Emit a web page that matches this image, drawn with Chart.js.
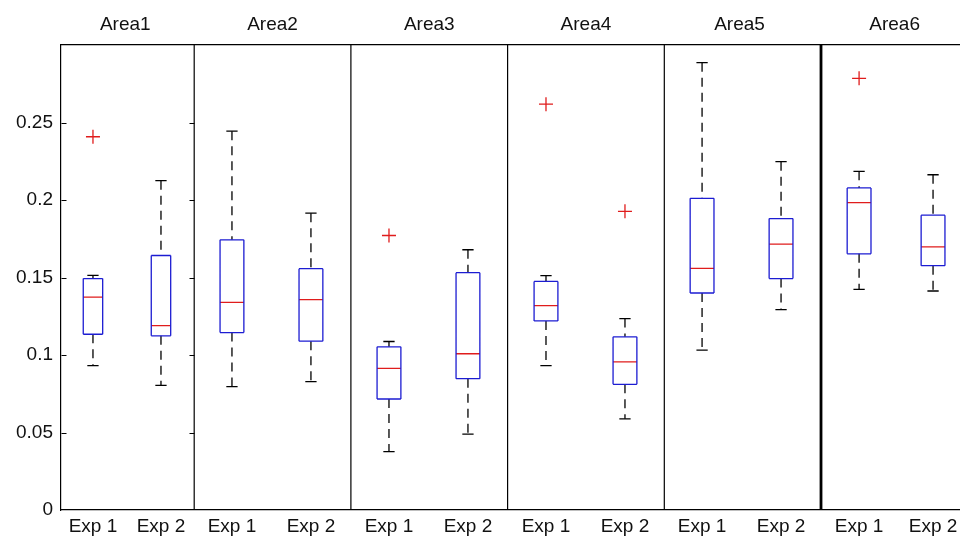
<!DOCTYPE html>
<html>
<head>
<meta charset="utf-8">
<title>Boxplots per area</title>
<script src="https://cdn.jsdelivr.net/npm/chart.js@4.4.1/dist/chart.umd.min.js"></script>
<style>
  html, body { margin: 0; padding: 0; background: #fff; }
  canvas { display: block; }
</style>
</head>
<body>
<canvas id="box" width="960" height="536"></canvas>
<script>
/* ── Data ───────────────────────────────────────── */
const areas       = ["Area1", "Area2", "Area3", "Area4", "Area5", "Area6"];
const areaCenters = [0.56, 1.5, 2.5, 3.5, 4.48, 5.47];
const dividers    = [1, 2, 3, 4, 5];

const categories = ["Exp 1", "Exp 2", "Exp 1", "Exp 2", "Exp 1", "Exp 2",
                    "Exp 1", "Exp 2", "Exp 1", "Exp 2", "Exp 1", "Exp 2"];
const xPos       = [0.354, 0.788, 1.241, 1.745, 2.243, 2.747,
                    3.245, 3.749, 4.241, 4.745, 5.243, 5.715];

const lowWhisker  = [0.0931, 0.0804, 0.0796, 0.0828, 0.0377, 0.0489, 0.0931, 0.0588, 0.1031, 0.1293, 0.1424, 0.1413];
const q1          = [0.1134, 0.1124, 0.1145, 0.1089, 0.0716, 0.0847, 0.1220, 0.0811, 0.1400, 0.1493, 0.1653, 0.1576];
const medians     = [0.1374, 0.1190, 0.1340, 0.1357, 0.0914, 0.1008, 0.1319, 0.0956, 0.1559, 0.1715, 0.1983, 0.1698];
const q3          = [0.1493, 0.1642, 0.1743, 0.1557, 0.1053, 0.1531, 0.1475, 0.1117, 0.2011, 0.1880, 0.2078, 0.1902];
const highWhisker = [0.1514, 0.2125, 0.2444, 0.1915, 0.1087, 0.1679, 0.1512, 0.1235, 0.2886, 0.2247, 0.2185, 0.2163];

const outlierBox = [0, 4, 6, 7, 10];
const outlierVal = [0.2408, 0.1771, 0.2618, 0.1927, 0.2785];

/* ── Styling ─────────────────────────────────────── */
const FONT  = { family: "'Liberation Sans', Arial, sans-serif", size: 19 };
const INK   = "#111";
const BLUE  = "#1c1cd2";
const RED   = "#e01c1c";
const Y_MAX = 0.3;
const CAP_HALF = 0.036;
const boxHalf = i => (i < 2 ? 0.062 : 0.076);   // first panel is narrower

/* ── Helpers: segments with null breaks ──────────── */
function segments(list) {
  const pts = [];
  list.forEach(([x1, y1, x2, y2]) => {
    pts.push({ x: x1, y: y1 }, { x: x2, y: y2 }, { x: x2, y: null });
  });
  return pts;
}

const boxSegs = [], medSegs = [], whiskSegs = [], capSegs = [];
xPos.forEach((x, i) => {
  const w = boxHalf(i);
  boxSegs.push([x - w, q1[i], x + w, q1[i]], [x + w, q1[i], x + w, q3[i]],
               [x + w, q3[i], x - w, q3[i]], [x - w, q3[i], x - w, q1[i]]);
  medSegs.push([x - w, medians[i], x + w, medians[i]]);
  whiskSegs.push([x, highWhisker[i], x, q3[i]], [x, q1[i], x, lowWhisker[i]]);
  capSegs.push([x - CAP_HALF, highWhisker[i], x + CAP_HALF, highWhisker[i]],
               [x - CAP_HALF, lowWhisker[i], x + CAP_HALF, lowWhisker[i]]);
});

const lineDs = (data, color, width, extra) => Object.assign({
  data, showLine: true, spanGaps: false, pointRadius: 0,
  borderColor: color, borderWidth: width, fill: false,
}, extra || {});

/* ── Inward y tick marks on the first panel ──────── */
const inwardTicks = {
  id: "inwardTicks",
  afterDatasetsDraw(chart) {
    const { ctx, chartArea, scales: { x, y } } = chart;
    const edge = Math.round(x.getPixelForValue(dividers[0])) + 0.5;
    const left = Math.round(chartArea.left) + 0.5;
    ctx.save();
    ctx.strokeStyle = "#000";
    ctx.lineWidth = 1;
    ctx.beginPath();
    y.ticks.forEach(t => {
      if (t.value <= 0 || t.value >= Y_MAX - 1e-6) return;
      const py = Math.round(y.getPixelForValue(t.value)) + 0.5;
      ctx.moveTo(left, py);  ctx.lineTo(left + 5, py);
      ctx.moveTo(edge, py);  ctx.lineTo(edge - 5, py);
    });
    ctx.stroke();
    ctx.restore();
  }
};

/* ── Chart ───────────────────────────────────────── */
new Chart(document.getElementById("box"), {
  type: "scatter",
  data: {
    datasets: [
      lineDs(segments(boxSegs), BLUE, 1.3),
      lineDs(segments(medSegs), RED, 1.3),
      lineDs(segments(capSegs), "#000", 1.3),
      lineDs(segments(whiskSegs), "#000", 1.3, { borderDash: [9, 6] }),
      {
        data: outlierBox.map((b, i) => ({ x: xPos[b], y: outlierVal[i] })),
        pointStyle: "cross", pointRadius: 7, pointBorderWidth: 1.3,
        pointBorderColor: RED, borderColor: RED, showLine: false,
      },
      lineDs(segments(dividers.slice(0, 4).map(d => [d, 0, d, Y_MAX])), "#000", 1.2),
      lineDs(segments(dividers.slice(4).map(d => [d, 0, d, Y_MAX])), "#000", 2.8),
    ]
  },
  options: {
    responsive: false,
    animation: false,
    layout: { padding: 0, autoPadding: false },
    plugins: { legend: { display: false }, tooltip: { enabled: false } },
    scales: {
      x: {
        type: "linear", position: "bottom", min: 0.15, max: 5.887,
        grid: { display: false, drawTicks: false },
        border: { display: true, color: "#000", width: 1.2 },
        afterBuildTicks: s => { s.ticks = xPos.map(v => ({ value: v })); },
        afterFit: s => { s.height = 26; s.paddingLeft = 0; s.paddingRight = 0; },
        ticks: {
          autoSkip: false, maxRotation: 0, padding: 5, color: INK, font: FONT,
          callback: (v, i) => categories[i],
        }
      },
      xTop: {
        type: "linear", position: "top", min: 0.15, max: 5.887,
        grid: { display: false, drawTicks: false },
        border: { display: true, color: "#000", width: 1.2 },
        afterBuildTicks: s => { s.ticks = areaCenters.map(v => ({ value: v })); },
        afterFit: s => { s.height = 45; s.paddingLeft = 0; s.paddingRight = 0; },
        ticks: {
          autoSkip: false, maxRotation: 0, padding: 9, color: INK, font: FONT,
          callback: (v, i) => areas[i],
        }
      },
      y: {
        min: 0, max: Y_MAX,
        grid: { display: false, drawTicks: false },
        border: { display: true, color: "#000", width: 1.2 },
        afterFit: s => { s.width = 61; s.paddingTop = 0; s.paddingBottom = 0; },
        ticks: {
          stepSize: 0.05, padding: 8, color: INK, font: FONT,
          callback: v => (v >= Y_MAX - 1e-6 ? "" : String(+v.toFixed(2))),
        }
      }
    }
  },
  plugins: [inwardTicks]
});
</script>
</body>
</html>
